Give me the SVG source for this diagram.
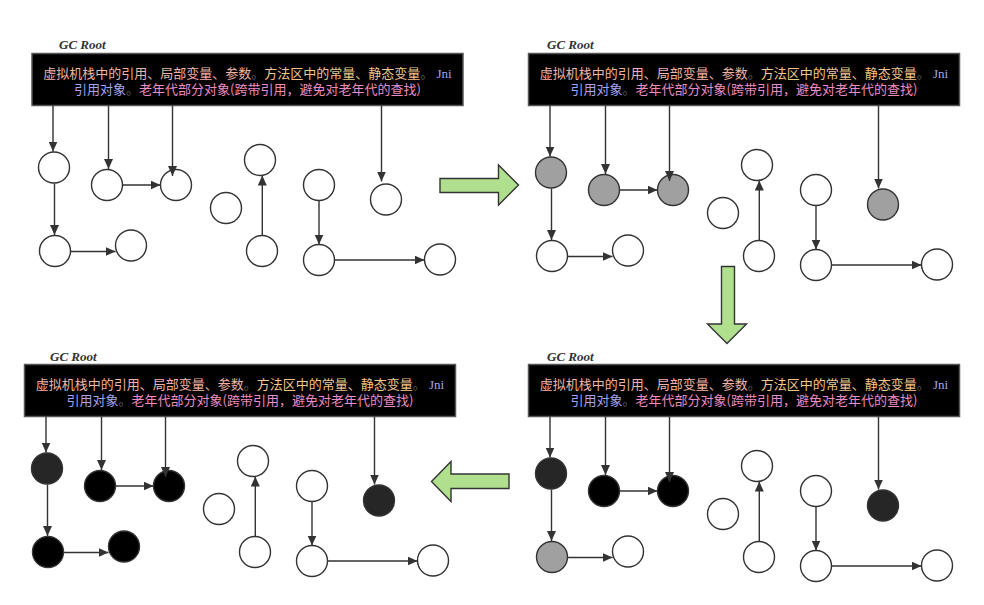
<svg xmlns="http://www.w3.org/2000/svg" width="984" height="605" viewBox="0 0 984 605">
<style>
.box{fill:#000;stroke:#555;stroke-width:1.5}
.gc{font-family:"Liberation Serif",serif;font-weight:bold;font-style:italic;font-size:13px;fill:#333}
.t{font-family:"Noto Sans CJK SC","Noto Sans",sans-serif;font-size:13px;text-anchor:middle}
.c1{fill:#f0b4a4}.c2{fill:#f0c68c}.c3{fill:#a4a4f2}.c4{fill:#ee8cc2}.dot{fill:#5a5a5a}
.jni{font-family:"Liberation Serif",serif;fill:#a4a4f2}
.n{stroke:#333;stroke-width:1.4;fill:#fff}
.g{fill:#a0a0a0}.d{fill:#262626}.k{fill:#000}
.e{fill:none;stroke:#333;stroke-width:1.4;marker-end:url(#ah)}
.big{fill:#b0e08e;stroke:#333;stroke-width:1.4}
</style>
<defs>
<marker id="ah" markerUnits="userSpaceOnUse" markerWidth="10" markerHeight="9" refX="10" refY="4.5" orient="auto">
<path d="M0,0 L10,4.5 L0,9 z" fill="#333"/>
</marker>
</defs>

<!-- Panel 1 -->
<g id="panel1">
<g id="p1-root">
<text class="gc" x="59" y="49">GC Root</text>
<rect class="box" x="32" y="53.5" width="431" height="52"/>
<text class="t" x="247.5" y="77.5"><tspan class="c1">虚拟机栈中的引用、局部变量、参数</tspan><tspan class="dot">。</tspan><tspan class="c2">方法区中的常量、静态变量</tspan><tspan class="dot">。</tspan><tspan class="jni"> Jni</tspan></text>
<text class="t" x="247.5" y="93.5"><tspan class="c3">引用对象</tspan><tspan class="dot">。</tspan><tspan class="c4">老年代部分对象(跨带引用，避免对老年代的查找)</tspan></text>
</g>
<g id="p1-nodes">
<circle id="p1-a" class="n" cx="54" cy="167.5" r="15.5"/>
<circle id="p1-b" class="n" cx="107" cy="185" r="15.5"/>
<circle id="p1-c" class="n" cx="176" cy="185" r="15.5"/>
<circle id="p1-d" class="n" cx="226" cy="208" r="15.5"/>
<circle id="p1-e" class="n" cx="260" cy="160" r="15.5"/>
<circle id="p1-f" class="n" cx="262" cy="251" r="15.5"/>
<circle id="p1-g" class="n" cx="319" cy="185" r="15.5"/>
<circle id="p1-h" class="n" cx="386" cy="199.5" r="15.5"/>
<circle id="p1-i" class="n" cx="55" cy="251" r="15.5"/>
<circle id="p1-j" class="n" cx="131" cy="245.5" r="15.5"/>
<circle id="p1-k" class="n" cx="319" cy="260" r="15.5"/>
<circle id="p1-l" class="n" cx="440" cy="259.5" r="15.5"/>
</g>
</g>

<!-- Panel 2 -->
<g id="panel2">
<g id="p2-root">
<text class="gc" x="547" y="49">GC Root</text>
<rect class="box" x="528.5" y="53.5" width="431" height="52"/>
<text class="t" x="744" y="77.5"><tspan class="c1">虚拟机栈中的引用、局部变量、参数</tspan><tspan class="dot">。</tspan><tspan class="c2">方法区中的常量、静态变量</tspan><tspan class="dot">。</tspan><tspan class="jni"> Jni</tspan></text>
<text class="t" x="744" y="93.5"><tspan class="c3">引用对象</tspan><tspan class="dot">。</tspan><tspan class="c4">老年代部分对象(跨带引用，避免对老年代的查找)</tspan></text>
</g>
<g id="p2-nodes">
<circle id="p2-a" class="n g" cx="551" cy="172.5" r="15.5"/>
<circle id="p2-b" class="n g" cx="604" cy="190" r="15.5"/>
<circle id="p2-c" class="n g" cx="673" cy="190" r="15.5"/>
<circle id="p2-d" class="n" cx="723" cy="213" r="15.5"/>
<circle id="p2-e" class="n" cx="757" cy="165" r="15.5"/>
<circle id="p2-f" class="n" cx="759" cy="256" r="15.5"/>
<circle id="p2-g" class="n" cx="816" cy="190" r="15.5"/>
<circle id="p2-h" class="n g" cx="883" cy="204.5" r="15.5"/>
<circle id="p2-i" class="n" cx="552" cy="256" r="15.5"/>
<circle id="p2-j" class="n" cx="628" cy="250.5" r="15.5"/>
<circle id="p2-k" class="n" cx="816" cy="265" r="15.5"/>
<circle id="p2-l" class="n" cx="937" cy="264.5" r="15.5"/>
</g>
</g>

<!-- Panel 3 -->
<g id="panel3">
<g id="p3-root">
<text class="gc" x="50" y="361">GC Root</text>
<rect class="box" x="24.5" y="364.5" width="431" height="52"/>
<text class="t" x="240" y="388.5"><tspan class="c1">虚拟机栈中的引用、局部变量、参数</tspan><tspan class="dot">。</tspan><tspan class="c2">方法区中的常量、静态变量</tspan><tspan class="dot">。</tspan><tspan class="jni"> Jni</tspan></text>
<text class="t" x="240" y="404.5"><tspan class="c3">引用对象</tspan><tspan class="dot">。</tspan><tspan class="c4">老年代部分对象(跨带引用，避免对老年代的查找)</tspan></text>
</g>
<g id="p3-nodes">
<circle id="p3-a" class="n d" cx="47" cy="468.5" r="15.5"/>
<circle id="p3-b" class="n k" cx="100" cy="486" r="15.5"/>
<circle id="p3-c" class="n k" cx="169" cy="486" r="15.5"/>
<circle id="p3-d" class="n" cx="219" cy="509" r="15.5"/>
<circle id="p3-e" class="n" cx="253" cy="461" r="15.5"/>
<circle id="p3-f" class="n" cx="255" cy="552" r="15.5"/>
<circle id="p3-g" class="n" cx="312" cy="486" r="15.5"/>
<circle id="p3-h" class="n d" cx="379" cy="500.5" r="15.5"/>
<circle id="p3-i" class="n k" cx="48" cy="552" r="15.5"/>
<circle id="p3-j" class="n k" cx="124" cy="546.5" r="15.5"/>
<circle id="p3-k" class="n" cx="312" cy="561" r="15.5"/>
<circle id="p3-l" class="n" cx="433" cy="560.5" r="15.5"/>
</g>
</g>

<!-- Panel 4 -->
<g id="panel4">
<g id="p4-root">
<text class="gc" x="547" y="361">GC Root</text>
<rect class="box" x="528.5" y="364.5" width="431" height="52"/>
<text class="t" x="744" y="388.5"><tspan class="c1">虚拟机栈中的引用、局部变量、参数</tspan><tspan class="dot">。</tspan><tspan class="c2">方法区中的常量、静态变量</tspan><tspan class="dot">。</tspan><tspan class="jni"> Jni</tspan></text>
<text class="t" x="744" y="404.5"><tspan class="c3">引用对象</tspan><tspan class="dot">。</tspan><tspan class="c4">老年代部分对象(跨带引用，避免对老年代的查找)</tspan></text>
</g>
<g id="p4-nodes">
<circle id="p4-a" class="n d" cx="551" cy="473.5" r="15.5"/>
<circle id="p4-b" class="n k" cx="604" cy="491" r="15.5"/>
<circle id="p4-c" class="n k" cx="673" cy="491" r="15.5"/>
<circle id="p4-d" class="n" cx="723" cy="514" r="15.5"/>
<circle id="p4-e" class="n" cx="757" cy="466" r="15.5"/>
<circle id="p4-f" class="n" cx="759" cy="557" r="15.5"/>
<circle id="p4-g" class="n" cx="816" cy="491" r="15.5"/>
<circle id="p4-h" class="n d" cx="883" cy="505.5" r="15.5"/>
<circle id="p4-i" class="n g" cx="552" cy="557" r="15.5"/>
<circle id="p4-j" class="n" cx="628" cy="551.5" r="15.5"/>
<circle id="p4-k" class="n" cx="816" cy="566" r="15.5"/>
<circle id="p4-l" class="n" cx="937" cy="565.5" r="15.5"/>
</g>
</g>

<!-- Connectors -->
<g id="connectors">
<path class="e" d="M53,105.5 V151.5"/>
<path class="e" d="M108.5,105.5 V169"/>
<path class="e" d="M172.5,105.5 V176"/>
<path class="e" d="M381.5,105.5 V181.5"/>
<path class="e" d="M54.5,183.5 V235"/>
<path class="e" d="M122.5,185 H160.5"/>
<path class="e" d="M71,251.5 H115.5"/>
<path class="e" d="M262.3,235.5 V175.5"/>
<path class="e" d="M319,200.5 V244.5"/>
<path class="e" d="M334.5,260 H424.5"/>

<path class="e" d="M550,105.5 V156.5"/>
<path class="e" d="M605.5,105.5 V174"/>
<path class="e" d="M669.5,105.5 V181"/>
<path class="e" d="M878.5,105.5 V188.5"/>
<path class="e" d="M551.5,188.5 V240"/>
<path class="e" d="M619.5,190 H657.5"/>
<path class="e" d="M568,256.5 H612.5"/>
<path class="e" d="M759.3,240.5 V180.5"/>
<path class="e" d="M816,205.5 V249.5"/>
<path class="e" d="M831.5,265 H921.5"/>

<path class="e" d="M46,416.5 V452.5"/>
<path class="e" d="M101.5,416.5 V470"/>
<path class="e" d="M165.5,416.5 V477"/>
<path class="e" d="M374.5,416.5 V484.5"/>
<path class="e" d="M47.5,484.5 V536"/>
<path class="e" d="M115.5,486 H153.5"/>
<path class="e" d="M64,552.5 H108.5"/>
<path class="e" d="M255.3,536.5 V476.5"/>
<path class="e" d="M312,501.5 V545.5"/>
<path class="e" d="M327.5,561 H417.5"/>

<path class="e" d="M550,416.5 V457.5"/>
<path class="e" d="M605.5,416.5 V475"/>
<path class="e" d="M669.5,416.5 V482"/>
<path class="e" d="M878.5,416.5 V489.5"/>
<path class="e" d="M551.5,489.5 V541"/>
<path class="e" d="M619.5,491 H657.5"/>
<path class="e" d="M568,557.5 H612.5"/>
<path class="e" d="M759.3,541.5 V481.5"/>
<path class="e" d="M816,506.5 V550.5"/>
<path class="e" d="M831.5,566 H921.5"/>
</g>

<!-- Step arrows -->
<g id="step-arrows">
<polygon id="arrow-right" class="big" points="440,178.5 498.5,178.5 498.5,165 518.5,185 498.5,205 498.5,192.5 440,192.5"/>
<polygon id="arrow-down" class="big" points="721.5,266.5 734.5,266.5 734.5,324 746.5,324 727,343.5 707.5,324 721.5,324"/>
<polygon id="arrow-left" class="big" points="509,474 451,474 451,461.5 431.5,481.5 451,501.5 451,488.5 509,488.5"/>
</g>
</svg>
